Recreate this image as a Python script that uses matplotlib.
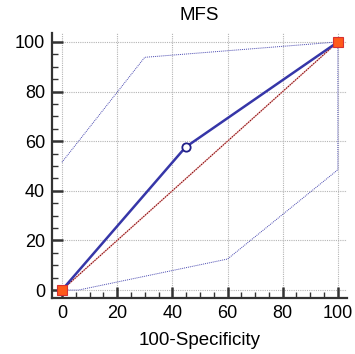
import matplotlib
matplotlib.use("Agg")
from matplotlib import pyplot as plt

plt.rcParams['font.family'] = ['Liberation Sans', 'DejaVu Sans']

# ROC curve points (100-Specificity, Sensitivity)
roc_x = [0, 44.8, 100]
roc_y = [0, 57.6, 100]

# confidence bounds
upper_x = [0, 30, 100]
upper_y = [51.5, 93.8, 100]
lower_x = [0, 6, 60, 100, 100]
lower_y = [0, 0, 12.5, 48.5, 100]

# criterion point
crit_x = [44.8]
crit_y = [57.6]

ticks = [0, 20, 40, 60, 80, 100]

fig = plt.figure(figsize=(3.55, 3.54), dpi=100)
ax = fig.add_axes([52 / 355, 1 - 298 / 354, 295 / 355, 265 / 354])

xmin, xmax = -3.6, 103.3
ymin, ymax = -3.2, 103.6

# dotted grid, starting from 0
for t in ticks:
    ax.plot([t, t], [0, ymax], color="#b4b4b4", lw=0.8, ls=(0, (1, 1)), zorder=1)
    ax.plot([0, xmax], [t, t], color="#b4b4b4", lw=0.8, ls=(0, (1, 1)), zorder=1)

# reference diagonal
ax.plot([0, 100], [0, 100], color="#f4c8c8", lw=1.2, zorder=2)
ax.plot([0, 100], [0, 100], color="#800000", lw=0.7, ls=(0, (1.5, 1)), zorder=2)

# confidence bounds
ax.plot(upper_x, upper_y, color="#4848b0", lw=0.7, ls=(0, (1, 1)), zorder=3)
ax.plot(lower_x, lower_y, color="#4848b0", lw=0.7, ls=(0, (1, 1)), zorder=3)

# ROC curve
ax.plot(roc_x, roc_y, color="#3636a8", lw=1.8, zorder=4)
ax.plot(crit_x, crit_y, marker="s", ms=5, mfc="#f06030", mec="#d02020", ls="none", zorder=5)
ax.plot([roc_x[0], roc_x[-1]], [roc_y[0], roc_y[-1]], marker="s", ms=6.5, mfc="#ff5a1a",
        mec="#d83030", mew=0.8, ls="none", zorder=6, clip_on=False)
ax.plot(crit_x, crit_y, marker="o", ms=6, mfc="white", mec="#20208a", mew=1.3,
        ls="none", zorder=6)

ax.set_xlim(xmin, xmax)
ax.set_ylim(ymin, ymax)
ax.set_xticks(ticks)
ax.set_yticks(ticks)
ax.set_xticks(range(0, 101, 5), minor=True)
ax.set_yticks(range(0, 101, 5), minor=True)
ax.tick_params(which="major", direction="in", length=8, width=1.8, color="#333333",
               labelsize=13, pad=5)
ax.tick_params(which="minor", direction="in", length=4, width=1.0, color="#333333")
ax.tick_params(axis="y", pad=5)

for s in ["top", "right"]:
    ax.spines[s].set_visible(False)
for s in ["left", "bottom"]:
    ax.spines[s].set_linewidth(1.6)
    ax.spines[s].set_color("#333333")

ax.set_title("MFS", fontsize=13.5, pad=9)
ax.set_xlabel("100-Specificity", fontsize=13.5, labelpad=7)

fig.savefig("out.png", dpi=100)
